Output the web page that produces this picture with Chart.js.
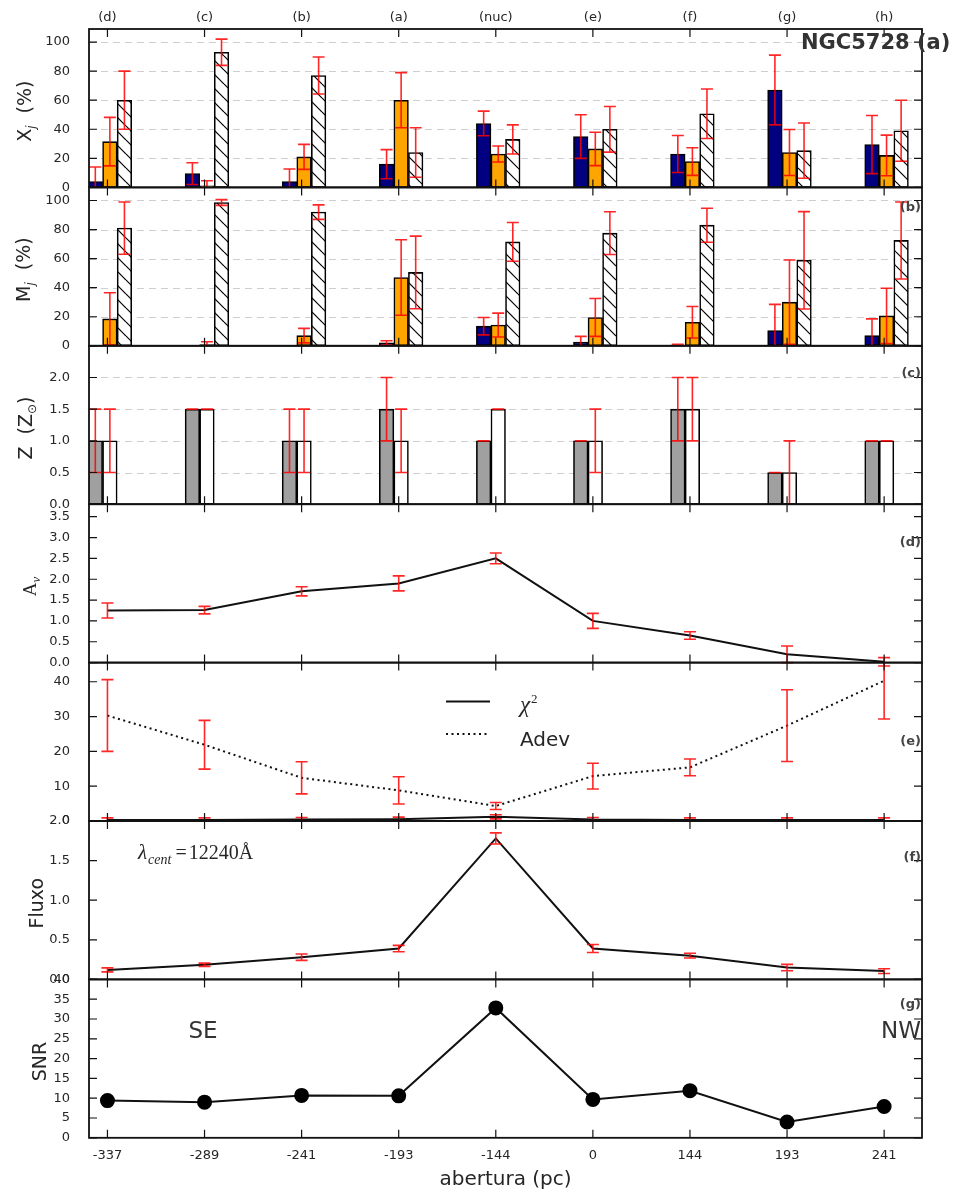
<!DOCTYPE html>
<html lang="pt">
<head>
<meta charset="utf-8">
<title>NGC5728 (a)</title>
<script src="https://cdn.jsdelivr.net/npm/chart.js@4.4.1/dist/chart.umd.min.js"></script>
<style>
  html, body { margin: 0; padding: 0; background: #fff; }
  #fig { position: relative; width: 960px; height: 1196px; background: #fff; }
  #fig canvas { position: absolute; left: 0; top: 0; }
</style>
</head>
<body>
<div id="fig"></div>
<script>
// apertures along the slit
const positions = ['(d)', '(c)', '(b)', '(a)', '(nuc)', '(e)', '(f)', '(g)', '(h)'];
const aperture = ['-337', '-289', '-241', '-193', '-144', '0', '144', '193', '241'];

// light fractions x_j (%): young, intermediate, old
const xjYoung = [4, 9.5, 4, 16, 44, 35, 23, 67, 29.5];
const xjYoungErr = [10, 7.5, 8.7, 10, 8.5, 15, 12.7, 24, 20];
const xjInter = [31.5, 1, 21, 60, 23, 26.5, 17.8, 24, 22];
const xjInterErr = [16.7, 3.6, 8.6, 19, 5.5, 11.5, 9.5, 15.8, 14];
const xjOld = [60, 93, 77, 24, 33, 40, 50.7, 25.3, 39];
const xjOldErr = [20, 9, 12.7, 17, 10, 15.7, 17, 19, 21];

// mass fractions m_j (%)
const mjYoung = [0, 0, 0, 2, 13.5, 2.5, 0.5, 10.5, 7];
const mjYoungErr = [0, 0, 0, 1.5, 6, 4, 0.5, 18, 11.5];
const mjInter = [18.5, 0.8, 7, 47, 14.3, 19.5, 16.2, 30, 20.6];
const mjInterErr = [18, 2, 5, 26, 8.2, 13, 10.8, 29, 19];
const mjOld = [81, 98.6, 92, 50.5, 71.5, 77.5, 83, 58.8, 72.5];
const mjOldErr = [18, 2, 5, 25, 13.3, 14.7, 11.7, 33.5, 26.5];

// metallicity (Z_sun): light weighted, mass weighted
const zLight = [1, 1.5, 1, 1.5, 1, 1, 1.5, 0.5, 1];
const zLightErr = [0.5, 0, 0.5, 0.5, 0, 0, 0.5, 0, 0];
const zMass = [1, 1.5, 1, 1, 1.5, 1, 1.5, 0.5, 1];
const zMassErr = [0.5, 0, 0.5, 0.5, 0, 0.5, 0.5, 0.5, 0];

// extinction
const av = [1.25, 1.26, 1.71, 1.9, 2.5, 1.0, 0.65, 0.2, 0.02];
const avErr = [0.18, 0.09, 0.11, 0.18, 0.13, 0.18, 0.09, 0.2, 0.1];

// fit quality
const chi2 = [0.3, 0.3, 0.4, 0.5, 1.2, 0.4, 0.3, 0.3, 0.3];
const chi2Err = [0.6, 0.6, 0.6, 0.6, 0.6, 0.6, 0.6, 0.6, 0.6];
const adev = [30.3, 21.9, 12.4, 8.8, 4.3, 12.9, 15.4, 27.4, 40.3];
const adevErr = [10.3, 7, 4.6, 3.9, 1.0, 3.7, 2.4, 10.3, 11];

// continuum flux at 12240 A
const flux = [0.12, 0.185, 0.28, 0.39, 1.78, 0.39, 0.3, 0.15, 0.105];
const fluxErr = [0.025, 0.02, 0.04, 0.04, 0.07, 0.05, 0.03, 0.04, 0.03];

const snr = [9.4, 9.0, 10.7, 10.6, 32.8, 9.7, 11.9, 4.0, 7.9];

// ---- layout ----
const W = 960, H = 1196;
const LEFT = 89, RIGHT = 922, TOP = 29, PANEL_H = 158.4;
const X_MIN = -0.19, X_MAX = 8.39;
const BAR_W = 0.15;
const barPx = BAR_W * (RIGHT - LEFT) / (X_MAX - X_MIN);
const OFFS = [-0.125, 0.025, 0.175];
const CAP = 12, TICK = 8;

const SANS = "'DejaVu Sans', sans-serif";
const SERIF = "'Liberation Serif', 'DejaVu Serif', serif";
const INK = '#262626';
const ERR_RED = 'rgba(255,0,0,0.85)';
const NAVY = '#000080', ORANGE = '#ffa500', GREY = '#a0a0a0';

Chart.defaults.font.family = SANS;

function pts(values, off) {
  return values.map((v, i) => ({x: i + (off || 0), y: v}));
}

function hatch() {
  const s = 14;
  const tile = document.createElement('canvas');
  tile.width = s; tile.height = s;
  const g = tile.getContext('2d');
  g.fillStyle = '#fff'; g.fillRect(0, 0, s, s);
  g.strokeStyle = '#000'; g.lineWidth = 1.2;
  for (const k of [-1, 0, 1]) {
    g.beginPath(); g.moveTo(0, k * s); g.lineTo(s, s + k * s); g.stroke();
  }
  return g.createPattern(tile, 'repeat');
}
const HATCH = hatch();

const barStyle = {
  type: 'bar', borderColor: '#000', borderWidth: 1.6, borderSkipped: false,
  barThickness: barPx, grouped: false
};

function drawErrors(chart, clip) {
  const {ctx, chartArea: ca} = chart;
  const y = chart.scales.y;
  ctx.save();
  if (clip) {
    ctx.beginPath();
    ctx.rect(ca.left, ca.top, ca.right - ca.left, ca.bottom - ca.top);
    ctx.clip();
  }
  ctx.strokeStyle = ERR_RED;
  ctx.lineWidth = 1.6;
  chart.data.datasets.forEach((ds, i) => {
    if (!ds.errors) return;
    chart.getDatasetMeta(i).data.forEach((el, j) => {
      const v = ds.data[j].y, e = ds.errors[j];
      const x = el.x, c = CAP / 2;
      const hi = y.getPixelForValue(v + e), lo = y.getPixelForValue(v - e);
      ctx.beginPath();
      ctx.moveTo(x, hi); ctx.lineTo(x, lo);
      ctx.moveTo(x - c, hi); ctx.lineTo(x + c, hi);
      ctx.moveTo(x - c, lo); ctx.lineTo(x + c, lo);
      ctx.stroke();
    });
  });
  ctx.restore();
}

function drawFrame(chart) {
  const {ctx, chartArea: ca, scales: {x, y}} = chart;
  ctx.save();
  ctx.strokeStyle = '#111';
  ctx.lineWidth = 1.2;
  ctx.beginPath();
  y.ticks.forEach(t => {
    const py = y.getPixelForValue(t.value);
    ctx.moveTo(ca.left, py); ctx.lineTo(ca.left + TICK, py);
    ctx.moveTo(ca.right, py); ctx.lineTo(ca.right - TICK, py);
  });
  positions.forEach((_, i) => {
    const px = x.getPixelForValue(i);
    ctx.moveTo(px, ca.top); ctx.lineTo(px, ca.top + TICK);
    ctx.moveTo(px, ca.bottom); ctx.lineTo(px, ca.bottom - TICK);
  });
  ctx.stroke();
  ctx.lineWidth = 1.8;
  ctx.strokeRect(ca.left, ca.top, ca.right - ca.left, ca.bottom - ca.top);
  ctx.restore();
}

// rotated y label made of pieces (for sub/superscripts)
function drawRotated(ctx, cx, cy, parts) {
  ctx.save();
  ctx.translate(cx, cy);
  ctx.rotate(-Math.PI / 2);
  ctx.fillStyle = INK;
  ctx.textBaseline = 'middle';
  ctx.textAlign = 'left';
  let total = 0;
  const widths = parts.map(p => { ctx.font = p.font; const w = ctx.measureText(p.text).width; total += w; return w; });
  let tx = -total / 2;
  parts.forEach((p, i) => { ctx.font = p.font; ctx.fillText(p.text, tx, p.dy || 0); tx += widths[i]; });
  ctx.restore();
}

function drawTag(ctx, ca, text, fy) {
  ctx.save();
  ctx.font = 'bold 13px ' + SANS;
  ctx.fillStyle = '#444';
  ctx.textAlign = 'right';
  ctx.textBaseline = 'middle';
  ctx.fillText(text, ca.right - 1, ca.top + fy * (ca.bottom - ca.top));
  ctx.restore();
}

function decor(cfg) {
  return {
    id: 'decor',
    beforeDatasetsDraw(chart) {
      if (!cfg.grid) return;
      const {ctx, chartArea: ca, scales: {y}} = chart;
      ctx.save();
      ctx.strokeStyle = '#cfcfcf';
      ctx.lineWidth = 1;
      ctx.setLineDash([7, 5]);
      y.ticks.forEach(t => {
        if (t.value <= y.min || t.value >= y.max) return;
        const py = Math.round(y.getPixelForValue(t.value)) + 0.5;
        ctx.beginPath(); ctx.moveTo(ca.left, py); ctx.lineTo(ca.right, py); ctx.stroke();
      });
      ctx.restore();
    },
    afterDatasetsDraw(chart) {
      const {ctx, chartArea: ca} = chart;
      drawErrors(chart, cfg.clipErrors !== false);
      drawFrame(chart);
      if (cfg.ylabel) drawRotated(ctx, cfg.ylabelX, (ca.top + ca.bottom) / 2 + 3, cfg.ylabel);
      if (cfg.tag) drawTag(ctx, ca, cfg.tag, cfg.tagY);
      if (cfg.extra) cfg.extra(ctx, ca, chart);
    }
  };
}

const categoryTicks = s => { s.ticks = positions.map((_, i) => ({value: i})); };
const tickFont = {family: SANS, size: 13};

function makePanel(k, cfg) {
  const top = TOP + k * PANEL_H, bottom = top + PANEL_H;
  const canvas = document.createElement('canvas');
  canvas.width = W; canvas.height = H;
  document.getElementById('fig').appendChild(canvas);

  const topH = cfg.topLabels ? 29 : 0;
  const botH = cfg.bottomLabels ? 58 : 0;

  const scales = {
    x: {
      type: 'linear', min: X_MIN, max: X_MAX, offset: false, position: 'bottom',
      display: !!cfg.bottomLabels,
      grid: {display: false}, border: {display: false},
      afterBuildTicks: categoryTicks,
      afterFit: s => { s.height = botH; },
      ticks: {
        autoSkip: false, maxRotation: 0, padding: 2, font: tickFont, color: INK,
        callback: (v, i) => cfg.bottomLabels ? cfg.bottomLabels[i] : ''
      },
      title: {
        display: !!cfg.xTitle, text: cfg.xTitle || '', color: INK,
        font: {family: SANS, size: 20}, padding: {top: 0, bottom: 4}
      }
    },
    y: {
      type: 'linear', min: cfg.yMin, max: cfg.yMax,
      grid: {display: false}, border: {display: false},
      afterFit: s => { s.width = LEFT; },
      ticks: {
        stepSize: cfg.yStep, includeBounds: false, padding: 11, font: tickFont, color: INK,
        callback: v => (cfg.yHide && cfg.yHide.includes(v)) ? null : cfg.yFmt(v)
      }
    }
  };
  if (cfg.topLabels) {
    scales.xt = {
      type: 'linear', min: X_MIN, max: X_MAX, offset: false, position: 'top',
      grid: {display: false}, border: {display: false},
      afterBuildTicks: categoryTicks,
      afterFit: s => { s.height = topH; },
      ticks: {autoSkip: false, maxRotation: 0, padding: -4, font: tickFont, color: INK,
        callback: (v, i) => cfg.topLabels[i]}
    };
  }

  return new Chart(canvas, {
    type: cfg.type,
    data: {datasets: cfg.datasets},
    options: {
      responsive: false,
      animation: false,
      events: [],
      layout: {padding: {left: 0, right: W - RIGHT, top: top - topH, bottom: H - bottom - botH}},
      plugins: {legend: {display: false}, tooltip: {enabled: false}},
      scales
    },
    plugins: [decor(cfg)]
  });
}

const int = v => String(v);
const one = v => v.toFixed(1);

// (a) light fractions
makePanel(0, {
  type: 'bar', yMin: 0, yMax: 109, yStep: 20, yFmt: int, grid: true,
  topLabels: positions,
  ylabel: [{text: 'X', font: '19px ' + SANS}, {text: 'j', font: 'italic 12px ' + SANS, dy: 6},
           {text: '  (%)', font: '19px ' + SANS}],
  ylabelX: 26,
  datasets: [
    {...barStyle, data: pts(xjYoung, OFFS[0]), errors: xjYoungErr, backgroundColor: NAVY},
    {...barStyle, data: pts(xjInter, OFFS[1]), errors: xjInterErr, backgroundColor: ORANGE},
    {...barStyle, data: pts(xjOld, OFFS[2]), errors: xjOldErr, backgroundColor: HATCH}
  ],
  extra(ctx, ca) {
    ctx.save();
    ctx.font = 'bold 21px ' + SANS;
    ctx.fillStyle = '#333';
    ctx.textBaseline = 'middle';
    ctx.fillText('NGC5728 (a)', ca.right - 121, ca.top + 15);
    ctx.restore();
  }
});

// (b) mass fractions
makePanel(1, {
  type: 'bar', yMin: 0, yMax: 109, yStep: 20, yFmt: int, grid: true,
  ylabel: [{text: 'M', font: '19px ' + SANS}, {text: 'j', font: 'italic 12px ' + SANS, dy: 6},
           {text: '  (%)', font: '19px ' + SANS}],
  ylabelX: 25, tag: '(b)', tagY: 0.127,
  datasets: [
    {...barStyle, data: pts(mjYoung, OFFS[0]), errors: mjYoungErr, backgroundColor: NAVY},
    {...barStyle, data: pts(mjInter, OFFS[1]), errors: mjInterErr, backgroundColor: ORANGE},
    {...barStyle, data: pts(mjOld, OFFS[2]), errors: mjOldErr, backgroundColor: HATCH}
  ]
});

// (c) metallicity
makePanel(2, {
  type: 'bar', yMin: 0, yMax: 2.5, yStep: 0.5, yFmt: one, yHide: [2.5], grid: true,
  ylabel: [{text: 'Z  (Z', font: '19px ' + SANS}, {text: '\u2299', font: '12px ' + SANS, dy: 6},
           {text: ')', font: '19px ' + SANS}],
  ylabelX: 27, tag: '(c)', tagY: 0.178,
  datasets: [
    {...barStyle, data: pts(zLight, OFFS[0]), errors: zLightErr, backgroundColor: GREY},
    {...barStyle, data: pts(zMass, OFFS[1]), errors: zMassErr, backgroundColor: '#fff'}
  ]
});

const lineStyle = {type: 'line', borderColor: '#111', borderWidth: 2, pointRadius: 0, tension: 0};

// (d) extinction
makePanel(3, {
  type: 'line', yMin: 0, yMax: 3.8, yStep: 0.5, yFmt: one, clipErrors: false,
  ylabel: [{text: 'A', font: '19px ' + SERIF}, {text: 'v', font: 'italic 13px ' + SERIF, dy: 6}],
  ylabelX: 31, tag: '(d)', tagY: 0.245,
  datasets: [{...lineStyle, data: pts(av), errors: avErr}]
});

// (e) chi2 and Adev
makePanel(4, {
  type: 'line', yMin: 0, yMax: 45.5, yStep: 10, yFmt: int,
  tag: '(e)', tagY: 0.5,
  datasets: [
    {...lineStyle, data: pts(chi2), errors: chi2Err},
    {...lineStyle, data: pts(adev), errors: adevErr, borderDash: [2, 3.5]}
  ],
  extra(ctx, ca) {
    const x0 = ca.left + 357, x1 = ca.left + 401, tx = ca.left + 431;
    ctx.save();
    ctx.strokeStyle = '#111'; ctx.lineWidth = 2;
    ctx.beginPath(); ctx.moveTo(x0, ca.top + 39); ctx.lineTo(x1, ca.top + 39); ctx.stroke();
    ctx.setLineDash([2, 3.5]);
    ctx.beginPath(); ctx.moveTo(x0, ca.top + 71.5); ctx.lineTo(x1, ca.top + 71.5); ctx.stroke();
    ctx.fillStyle = INK;
    ctx.textBaseline = 'alphabetic';
    ctx.font = 'italic 23px ' + SERIF;
    ctx.fillText('\u03c7', tx, ca.top + 49);
    const w = ctx.measureText('\u03c7').width;
    ctx.font = '13px ' + SERIF;
    ctx.fillText('2', tx + w + 1, ca.top + 40);
    ctx.font = '20px ' + SANS;
    ctx.fillText('Adev', tx, ca.top + 83);
    ctx.restore();
  }
});

// (f) flux
makePanel(5, {
  type: 'line', yMin: 0, yMax: 2.0, yStep: 0.5, yFmt: one,
  ylabel: [{text: 'Fluxo', font: '19px ' + SANS}],
  ylabelX: 38, tag: '(f)', tagY: 0.234,
  datasets: [{...lineStyle, data: pts(flux), errors: fluxErr}],
  extra(ctx, ca) {
    let x = ca.left + 49;
    const base = ca.top + 38;
    ctx.save();
    ctx.fillStyle = INK;
    ctx.textBaseline = 'alphabetic';
    ctx.font = 'italic 21px ' + SERIF;
    ctx.fillText('\u03bb', x, base);
    x += ctx.measureText('\u03bb').width + 1;
    ctx.font = 'italic 14px ' + SERIF;
    ctx.fillText('cent', x, base + 5);
    x += ctx.measureText('cent').width + 4;
    ctx.font = '20px ' + SERIF;
    ctx.fillText('=', x, base);
    x += ctx.measureText('=').width + 2;
    ctx.fillText('12240\u00c5', x, base);
    ctx.restore();
  }
});

// (g) signal to noise
makePanel(6, {
  type: 'line', yMin: 0, yMax: 40, yStep: 5, yFmt: int,
  bottomLabels: aperture, xTitle: 'abertura (pc)',
  ylabel: [{text: 'SNR', font: '19px ' + SANS}],
  ylabelX: 41, tag: '(g)', tagY: 0.16,
  datasets: [{
    ...lineStyle, data: pts(snr),
    pointRadius: 6.5, pointBackgroundColor: '#000', pointBorderColor: '#000'
  }],
  extra(ctx, ca) {
    ctx.save();
    ctx.font = '23px ' + SANS;
    ctx.fillStyle = '#333';
    ctx.textBaseline = 'alphabetic';
    ctx.textAlign = 'center';
    ctx.fillText('SE', ca.left + 114, ca.top + 58.5);
    ctx.textAlign = 'right';
    ctx.fillText('NW', ca.right - 1, ca.top + 58.5);
    ctx.restore();
  }
});
</script>
</body>
</html>
